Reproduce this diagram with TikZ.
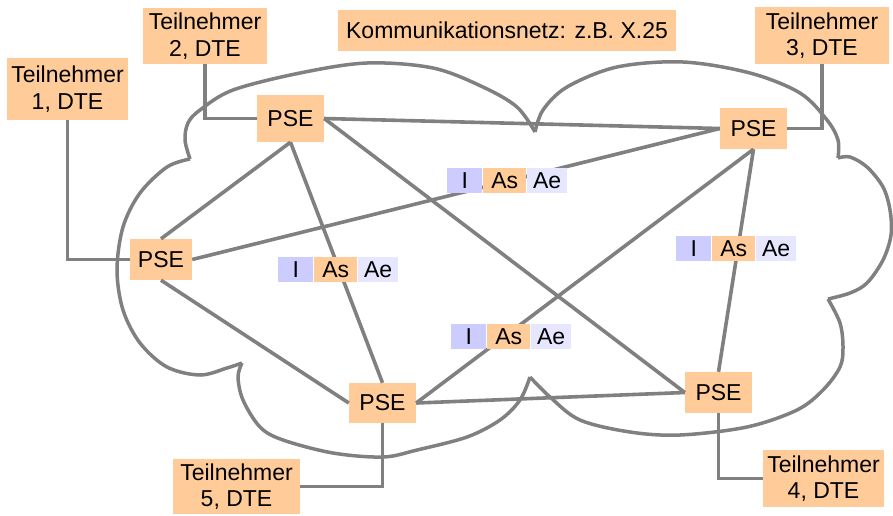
\documentclass[tikz,border=0pt]{standalone}
\usepackage{fontspec}
\setmainfont{Liberation Sans}
\definecolor{boxfill}{HTML}{FFCC99}
\definecolor{cellI}{HTML}{CCCCFF}
\definecolor{cellAe}{HTML}{E6E6FF}
\definecolor{wire}{HTML}{808080}
\tikzset{
  lbl/.style={font=\fontsize{23}{26.5}\selectfont, inner sep=0pt, align=center},
  box/.style={lbl, fill=boxfill},
  psebox/.style={box, minimum width=67pt, minimum height=41pt},
  tnbox/.style={box, minimum height=57pt},
  link/.style={draw=wire, line width=3.6pt},
  cloudline/.style={draw=wire, line width=3.5pt, line join=round},
  cellbase/.style={lbl, minimum height=25pt, anchor=west},
  packet/.pic={
    \node[cellbase, fill=cellI, minimum width=35pt] (-i) at (0,0) {I};
    \node[cellbase, fill=boxfill, minimum width=43pt] (-as) at (36,0) {As};
    \node[cellbase, fill=cellAe, minimum width=40pt] (-ae) at (80,0) {Ae};
  }
}
\begin{document}
\begin{tikzpicture}[x=1pt, y=-1pt]
\useasboundingbox (0,0) rectangle (893,515);

% cloud outline, one bulge at a time
\draw[cloudline] plot[smooth, tension=0.55] coordinates {(190,159) (185,140) (188,123) (200,110) (233,90) (300,73) (367,63) (433,68) (483,87) (517,107) (535,132)};
\draw[cloudline] plot[smooth, tension=0.55] coordinates {(535,132) (543,110) (567,87) (617,67) (683,62) (750,73) (800,93) (827,120) (838,140) (838,158)};
\draw[cloudline] plot[smooth, tension=0.55] coordinates {(838,158) (850,157) (867,167) (883,187) (890,210) (891,235) (883,260) (867,283) (850,293) (828,299)};
\draw[cloudline] plot[smooth, tension=0.55] coordinates {(828,299) (840,323) (843,347) (840,367) (823,390) (797,410) (747,427) (680,435) (630,432) (580,420) (550,397) (530,377)};
\draw[cloudline] plot[smooth, tension=0.55] coordinates {(530,377) (520,400) (500,420) (467,437) (417,450) (383,457) (333,453) (283,440) (260,427) (243,400) (238,377) (242,363)};
\draw[cloudline] plot[smooth, tension=0.55] coordinates {(242,363) (227,368) (200,375) (167,367) (140,343) (123,310) (117,270) (123,227) (140,193) (167,167) (190,159)};

% switching nodes
\node[psebox, minimum height=47pt] (pse1) at (290.5,118.5) {PSE};
\node[psebox, minimum width=62pt] (pse2) at (161,259.5) {PSE};
\node[psebox, minimum height=40pt] (pse3) at (382.5,403) {PSE};
\node[psebox] (pse4) at (718.5,392.5) {PSE};
\node[psebox] (pse5) at (753.5,128.5) {PSE};

% subscribers
\node[tnbox, minimum width=121pt, minimum height=62pt] (t1) at (67.5,89) {Teilnehmer\\1, DTE};
\node[tnbox, minimum width=124pt, minimum height=56pt] (t2) at (205,36) {Teilnehmer\\2, DTE};
\node[tnbox, minimum width=134pt] (t3) at (822,35.5) {Teilnehmer\\3, DTE};
\node[tnbox, minimum width=121pt] (t4) at (823.5,478.5) {Teilnehmer\\4, DTE};
\node[tnbox, minimum width=127pt, minimum height=55pt] (t5) at (236.5,486.5) {Teilnehmer\\5, DTE};

% title
\node[box, minimum width=338pt, minimum height=41pt] (title) at (507,30.5) {Kommunikationsnetz: z.B. X.25};

% access lines
\draw[link] (t1.south) |- (pse2.west);
\draw[link] (t2.south) |- (pse1.west);
\draw[link] (t3.south) |- (pse5.east);
\draw[link] (pse4.south) |- (t4.west);
\draw[link] (pse3.south) |- (t5.east);

% trunk lines between switching nodes
\draw[link] (pse1.east) -- (pse5.west);
\draw[link] (pse1.south) -- (pse2.north);
\draw[link] (pse1.south) -- (pse3.north);
\draw[link] (pse1.east) -- (pse4.west);
\draw[link] (pse2.east) -- (pse5.west);
\draw[link] (pse2.south) -- (pse3.west);
\draw[link] (pse3.east) -- (pse5.south);
\draw[link] (pse3.east) -- (pse4.west);
\draw[link] (pse5.south) -- (pse4.north);

% packets travelling on the trunks
\pic (pk1) at (447,180.5) {packet};
\pic (pk2) at (278,269.5) {packet};
\pic (pk3) at (676,248.5) {packet};
\pic (pk4) at (451,336.5) {packet};
\end{tikzpicture}
\end{document}
